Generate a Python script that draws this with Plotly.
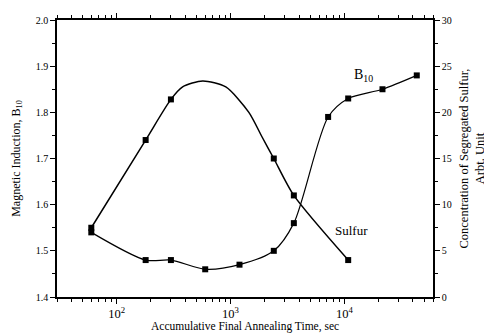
import plotly.graph_objects as go

# B10 series (left axis)
b10_time = [60, 180, 300, 600, 1200, 2400, 3600, 7200, 10800, 21600, 43200]
b10_val = [1.54, 1.48, 1.48, 1.46, 1.47, 1.50, 1.56, 1.79, 1.83, 1.85, 1.88]

# Sulfur series (right axis)
s_time = [60, 180, 300, 2400, 3600, 10800]
s_val = [7.5, 17.0, 21.4, 15.0, 11.0, 4.0]

# Sulfur fitted curve
s_curve_time = [60, 180, 300, 380, 570, 910, 1450, 1900, 2400, 3600, 10800]
s_curve_val = [7.5, 17.0, 21.4, 22.75, 23.4, 22.75, 20.0, 17.3, 15.0, 11.0, 4.0]

FONT = "Liberation Serif"

fig = go.Figure()
fig.add_trace(go.Scatter(x=b10_time, y=b10_val, mode="lines+markers",
                         line=dict(color="black", width=1.2, shape="spline", smoothing=0.8),
                         marker=dict(symbol="square", size=6, color="black"),
                         showlegend=False))
fig.add_trace(go.Scatter(x=s_curve_time, y=s_curve_val, mode="lines", yaxis="y2",
                         line=dict(color="black", width=1.5, shape="spline", smoothing=0.7),
                         showlegend=False))
fig.add_trace(go.Scatter(x=s_time, y=s_val, mode="markers", yaxis="y2",
                         marker=dict(symbol="square", size=6, color="black"),
                         showlegend=False))

fig.add_annotation(x=4.17, y=1.88, xref="x", yref="y", text="B<sub>10</sub>",
                   showarrow=False, font=dict(family=FONT, size=14, color="black"))
fig.add_annotation(x=4.06, y=1.545, xref="x", yref="y", text="Sulfur",
                   showarrow=False, font=dict(family=FONT, size=13, color="black"))
# x-axis title placed as text below the tick labels
fig.add_annotation(x=0.5, y=-0.106, xref="paper", yref="paper", yanchor="middle",
                   text="Accumulative Final Annealing Time, sec",
                   showarrow=False, font=dict(family=FONT, size=11.5, color="black"))

# page body has an 8px default margin, so the figure is sized/offset to compensate
fig.update_layout(
    width=484, height=325,
    margin=dict(l=49, r=59, t=12, b=36),
    paper_bgcolor="white", plot_bgcolor="white",
    font=dict(family=FONT, size=10, color="black"),
    xaxis=dict(type="log", range=[1.477, 4.778], showline=True, linecolor="black", linewidth=1.5,
               mirror="ticks", ticks="outside", ticklen=5, tickwidth=1.2, tickcolor="black",
               dtick=1, exponentformat="power", showgrid=False, zeroline=False, automargin=False,
               minor=dict(ticks="outside", ticklen=3, tickcolor="black", dtick="D1", showgrid=False)),
    yaxis=dict(range=[1.4, 2.0], dtick=0.1, tickformat=".1f", showline=True, linecolor="black",
               linewidth=1.5, ticks="outside", ticklen=5, tickcolor="black", showgrid=False,
               zeroline=False, automargin=False,
               minor=dict(ticks="outside", ticklen=3, tickcolor="black", dtick=0.05, showgrid=False),
               title=dict(text="Magnetic Induction, B<sub>10</sub>", standoff=13,
                          font=dict(family=FONT, size=12))),
    yaxis2=dict(range=[0, 30], dtick=5, overlaying="y", side="right", showline=True,
                linecolor="black", linewidth=1.5, ticks="outside", ticklen=5, tickcolor="black",
                showgrid=False, zeroline=False, automargin=False,
                minor=dict(ticks="outside", ticklen=3, tickcolor="black", dtick=2.5, showgrid=False),
                title=dict(text="Concentration of Segregated Sulfur,<br>Arbt. Unit", standoff=8,
                           font=dict(family=FONT, size=12.5))),
)

fig.write_html("out.html")
